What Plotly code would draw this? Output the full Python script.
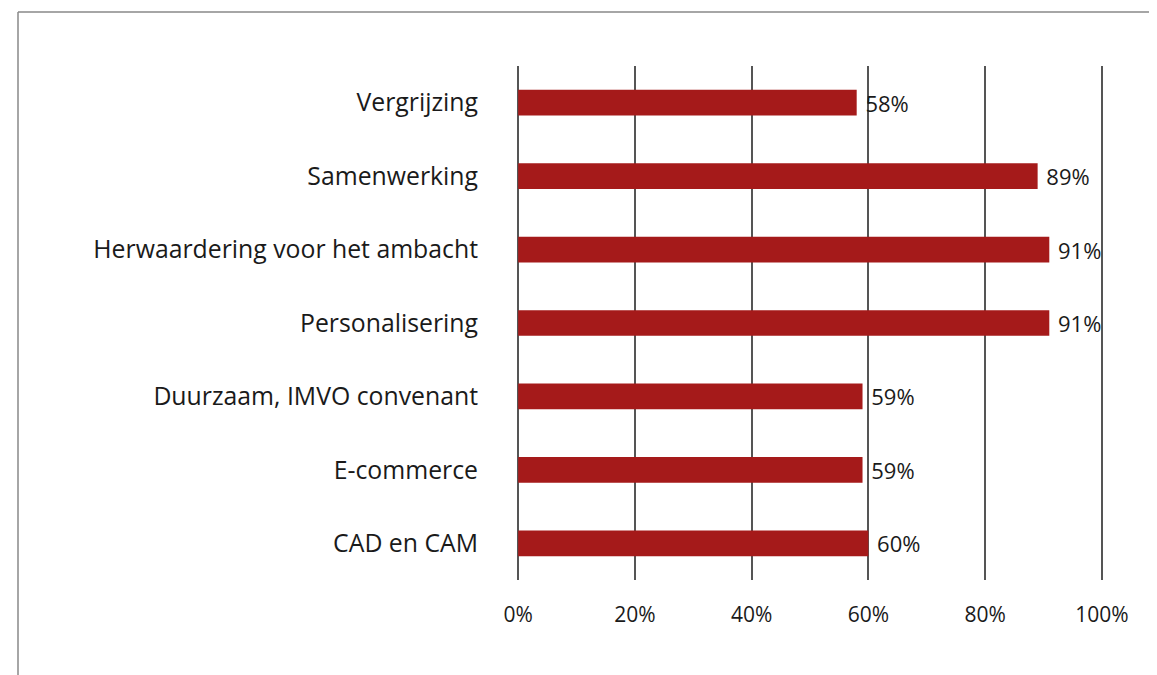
import plotly.graph_objects as go

categories = ["Vergrijzing", "Samenwerking", "Herwaardering voor het ambacht",
              "Personalisering", "Duurzaam, IMVO convenant", "E-commerce", "CAD en CAM"]
values = [58, 89, 91, 91, 59, 59, 60]
value_labels = ["58%", "89%", "91%", "91%", "59%", "59%", "60%"]
x_ticks = [0, 20, 40, 60, 80, 100]
x_tick_labels = ["0%", "20%", "40%", "60%", "80%", "100%"]

font_family = "Open Sans, Lato, sans-serif"
text_color = "#1a1a1a"

# plot area in figure pixels
L, R, T, B = 509, 1095, 58, 572
W, H = 1157, 675

fig = go.Figure(go.Bar(
    x=values, y=categories, orientation="h",
    marker=dict(color="#A51A1A", line=dict(width=0)),
    text=[" " + t for t in value_labels], textposition="outside",
    constraintext="none",
    textfont=dict(size=22, color=text_color, family=font_family),
    cliponaxis=False,
))

fig.update_layout(
    width=W, height=H,
    margin=dict(l=L, r=W - R, t=T, b=H - B),
    paper_bgcolor="white", plot_bgcolor="white",
    bargap=0.65,
    showlegend=False,
    font=dict(family=font_family, color=text_color),
    xaxis=dict(range=[-0.2, 100.2], tickvals=x_ticks, ticktext=x_tick_labels,
               showgrid=True, gridcolor="#555555", gridwidth=1.5,
               zeroline=False, showline=False, ticks="",
               ticklabelstandoff=20,
               tickfont=dict(size=21, family=font_family, color=text_color)),
    yaxis=dict(autorange="reversed", showgrid=False, zeroline=False, showline=False,
               ticks="", ticklabelstandoff=38,
               tickfont=dict(size=24.8, family=font_family, color=text_color)),
)

pw, ph = R - L, B - T
fx = (10 - L) / pw
fy_top = (B - 4) / ph
fy_bot = (B - H) / ph
fig.add_shape(type="line", xref="paper", yref="paper",
              x0=fx, x1=(W - L) / pw, y0=fy_top, y1=fy_top,
              line=dict(color="#888888", width=1.5))
fig.add_shape(type="line", xref="paper", yref="paper",
              x0=fx, x1=fx, y0=fy_top, y1=fy_bot,
              line=dict(color="#888888", width=1.5))

fig.write_html("out.html")
